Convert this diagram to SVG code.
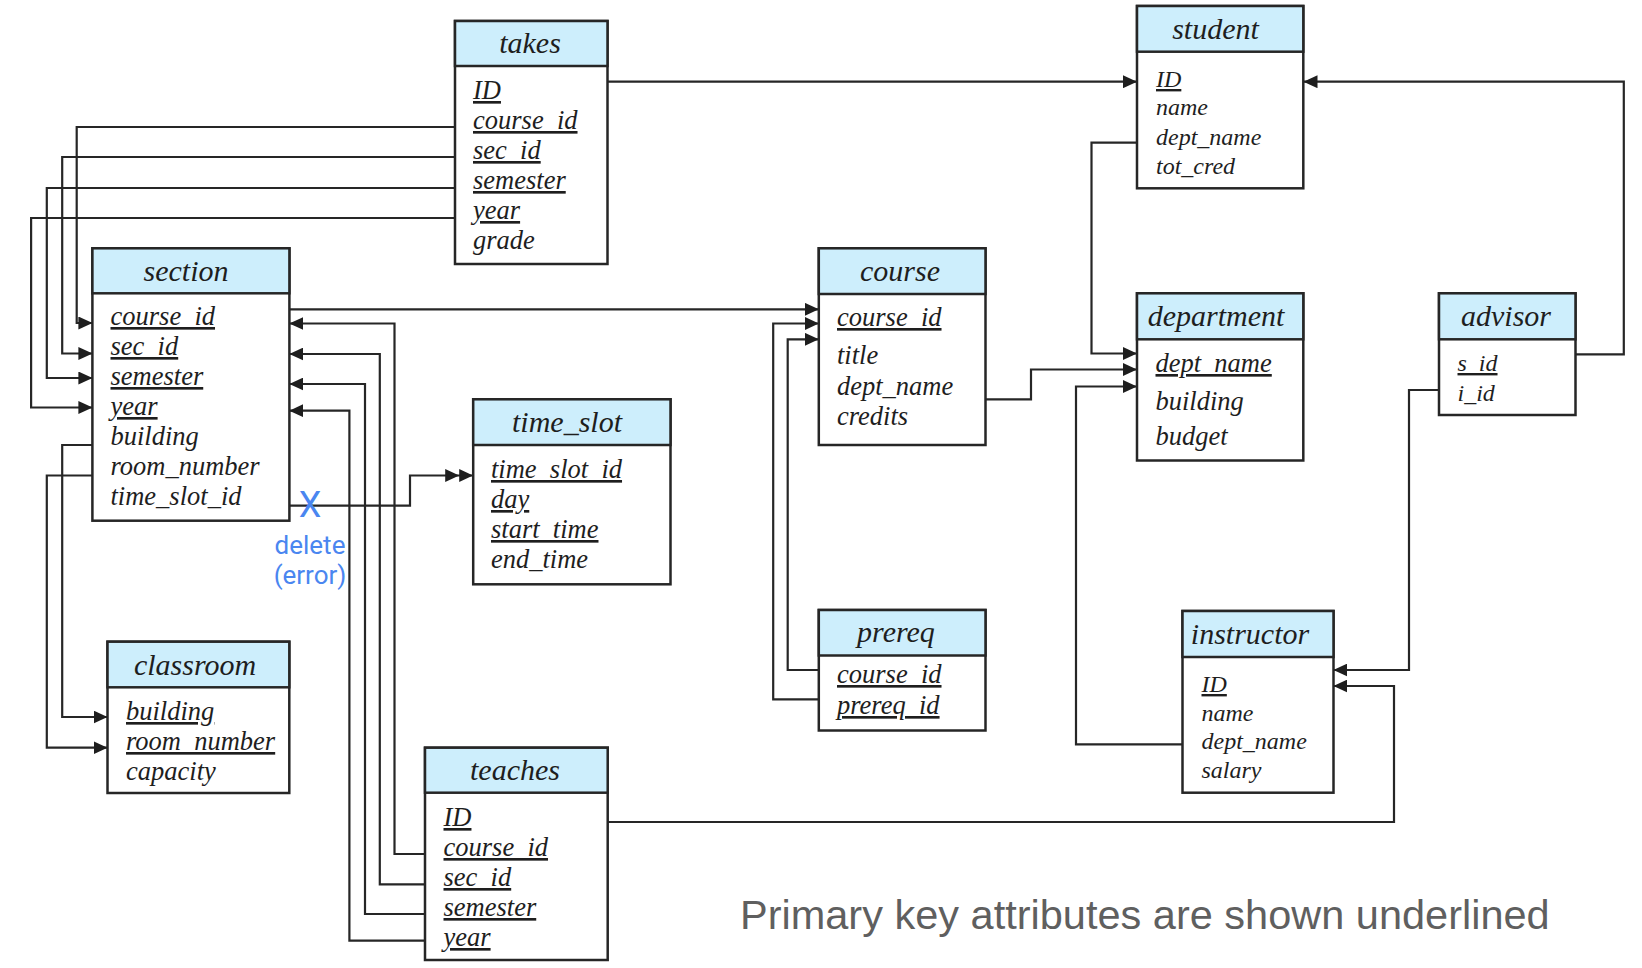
<svg xmlns="http://www.w3.org/2000/svg" width="1642" height="968" viewBox="0 0 1642 968">
<style>
.box{fill:#fff;stroke:#262626;stroke-width:2.5}
.hdr{fill:#cdeefc;stroke:#262626;stroke-width:2.5}
.title{font-family:"Liberation Serif",serif;font-style:italic;font-size:30px;fill:#1e1e1e;text-anchor:middle}
.attr{font-family:"Liberation Serif",serif;font-style:italic;font-size:26.5px;fill:#1e1e1e}
.sm{font-size:24px}
.pk{text-decoration:underline}
.conn path{fill:none;stroke:#262626;stroke-width:2.2}
.note{font-family:Roboto,"Liberation Sans",sans-serif;fill:#4a86f0;text-anchor:middle}
.foot{font-family:"Liberation Sans",Arial,sans-serif;font-size:41.5px;fill:#5f5f5f}
</style>
<defs>
<marker id="a" markerUnits="userSpaceOnUse" viewBox="0 0 14 13" markerWidth="14" markerHeight="13" refX="14" refY="6.5" orient="auto">
<path d="M0,0 L14,6.5 L0,13 z" fill="#1e1e1e"/>
</marker>
<marker id="aa" markerUnits="userSpaceOnUse" viewBox="0 0 28 13" markerWidth="28" markerHeight="13" refX="28" refY="6.5" orient="auto">
<path d="M0,0 L14,6.5 L0,13 z M14,0 L28,6.5 L14,13 z" fill="#1e1e1e"/>
</marker>
</defs>
<rect width="1642" height="968" fill="#fff"/>

<g class="conn">
<path d="M607.5,81.7 H1137" marker-end="url(#a)"/>
<path d="M455,127 H76.7 V323 H92.4" marker-end="url(#a)"/>
<path d="M455,157 H62.2 V353.5 H92.4" marker-end="url(#a)"/>
<path d="M455,188 H46.8 V378 H92.4" marker-end="url(#a)"/>
<path d="M455,218 H31.1 V407.5 H92.4" marker-end="url(#a)"/>
<path d="M289.3,309.3 H818.8" marker-end="url(#a)"/>
<path d="M92.4,445 H62.2 V717 H107.5" marker-end="url(#a)"/>
<path d="M92.4,475.5 H46.8 V747.7 H107.5" marker-end="url(#a)"/>
<path d="M289.3,505.7 H410 V475.5 H473.2" marker-end="url(#aa)"/>
<path d="M425,854 H394.5 V323.5 H289.3" marker-end="url(#a)"/>
<path d="M425,884.3 H379.8 V354 H289.3" marker-end="url(#a)"/>
<path d="M425,914 H365 V384 H289.3" marker-end="url(#a)"/>
<path d="M425,940.7 H349.4 V410.7 H289.3" marker-end="url(#a)"/>
<path d="M607.7,822 H1394 V686 H1333.4" marker-end="url(#a)"/>
<path d="M818.8,670 H787.7 V339.3 H818.8" marker-end="url(#a)"/>
<path d="M818.8,699.3 H773.2 V323.5 H818.8" marker-end="url(#a)"/>
<path d="M1137,142.7 H1091.5 V353.5 H1137" marker-end="url(#a)"/>
<path d="M985.5,399.3 H1031 V369.5 H1137" marker-end="url(#a)"/>
<path d="M1182.5,744.3 H1076 V386.5 H1137" marker-end="url(#a)"/>
<path d="M1575.5,354.3 H1623.8 V81.7 H1303.5" marker-end="url(#a)"/>
<path d="M1439,390 H1409 V670 H1333.4" marker-end="url(#a)"/>
</g>

<g id="takes">
<rect class="box" x="455" y="21" width="152.5" height="243"/>
<rect class="hdr" x="455" y="21" width="152.5" height="45"/>
<text class="title" x="530" y="53">takes</text>
<text class="attr pk" x="473" y="99">ID</text>
<text class="attr pk" x="473" y="129">course_id</text>
<text class="attr pk" x="473" y="159">sec_id</text>
<text class="attr pk" x="473" y="189">semester</text>
<text class="attr pk" x="473" y="219">year</text>
<text class="attr" x="473" y="249">grade</text>
</g>

<g id="section">
<rect class="box" x="92.4" y="248.3" width="197" height="272.4"/>
<rect class="hdr" x="92.4" y="248.3" width="197" height="45"/>
<text class="title" x="186" y="281">section</text>
<text class="attr pk" x="110.5" y="325">course_id</text>
<text class="attr pk" x="110.5" y="355">sec_id</text>
<text class="attr pk" x="110.5" y="385">semester</text>
<text class="attr pk" x="110.5" y="415">year</text>
<text class="attr" x="110.5" y="445">building</text>
<text class="attr" x="110.5" y="475">room_number</text>
<text class="attr" x="110.5" y="505">time_slot_id</text>
</g>

<g id="time_slot">
<rect class="box" x="473.2" y="399.3" width="197.3" height="185"/>
<rect class="hdr" x="473.2" y="399.3" width="197.3" height="45.7"/>
<text class="title" x="567" y="432">time_slot</text>
<text class="attr pk" x="491" y="478">time_slot_id</text>
<text class="attr pk" x="491" y="508">day</text>
<text class="attr pk" x="491" y="538">start_time</text>
<text class="attr" x="491" y="568">end_time</text>
</g>

<g id="classroom">
<rect class="box" x="107.5" y="641.7" width="181.8" height="151.3"/>
<rect class="hdr" x="107.5" y="641.7" width="181.8" height="45.6"/>
<text class="title" x="195" y="674.5">classroom</text>
<text class="attr pk" x="126" y="720">building</text>
<text class="attr pk" x="126" y="750">room_number</text>
<text class="attr" x="126" y="780">capacity</text>
</g>

<g id="teaches">
<rect class="box" x="425" y="747.7" width="182.7" height="212.3"/>
<rect class="hdr" x="425" y="747.7" width="182.7" height="45"/>
<text class="title" x="515" y="780">teaches</text>
<text class="attr pk" x="443.5" y="826">ID</text>
<text class="attr pk" x="443.5" y="856">course_id</text>
<text class="attr pk" x="443.5" y="886">sec_id</text>
<text class="attr pk" x="443.5" y="916">semester</text>
<text class="attr pk" x="443.5" y="946">year</text>
</g>

<g id="student">
<rect class="box" x="1137" y="6" width="166.3" height="182.3"/>
<rect class="hdr" x="1137" y="6" width="166.3" height="45.7"/>
<text class="title" x="1215.5" y="39">student</text>
<text class="attr sm pk" x="1156" y="87">ID</text>
<text class="attr sm" x="1156" y="115">name</text>
<text class="attr sm" x="1156" y="144.5">dept_name</text>
<text class="attr sm" x="1156" y="174">tot_cred</text>
</g>

<g id="course">
<rect class="box" x="818.8" y="248.3" width="166.7" height="196.7"/>
<rect class="hdr" x="818.8" y="248.3" width="166.7" height="45.7"/>
<text class="title" x="900" y="281">course</text>
<text class="attr pk" x="837" y="326">course_id</text>
<text class="attr" x="837" y="364">title</text>
<text class="attr" x="837" y="394.5">dept_name</text>
<text class="attr" x="837" y="424.5">credits</text>
</g>

<g id="department">
<rect class="box" x="1137" y="293.3" width="166.3" height="167.2"/>
<rect class="hdr" x="1137" y="293.3" width="166.3" height="46"/>
<text class="title" x="1216" y="326">department</text>
<text class="attr pk" x="1155.5" y="372">dept_name</text>
<text class="attr" x="1155.5" y="409.5">building</text>
<text class="attr" x="1155.5" y="444.5">budget</text>
</g>

<g id="advisor">
<rect class="box" x="1439" y="293.3" width="136.5" height="121.7"/>
<rect class="hdr" x="1439" y="293.3" width="136.5" height="46"/>
<text class="title" x="1506" y="326">advisor</text>
<text class="attr sm pk" x="1457.5" y="371">s_id</text>
<text class="attr sm" x="1457.5" y="401">i_id</text>
</g>

<g id="prereq">
<rect class="box" x="818.8" y="610" width="166.7" height="120.5"/>
<rect class="hdr" x="818.8" y="610" width="166.7" height="45.5"/>
<text class="title" x="896" y="642">prereq</text>
<text class="attr pk" x="837" y="683">course_id</text>
<text class="attr pk" x="837" y="714">prereq_id</text>
</g>

<g id="instructor">
<rect class="box" x="1182.5" y="611" width="151" height="181.7"/>
<rect class="hdr" x="1182.5" y="611" width="151" height="46"/>
<text class="title" x="1250" y="643.5">instructor</text>
<text class="attr sm pk" x="1201.5" y="692">ID</text>
<text class="attr sm" x="1201.5" y="720.5">name</text>
<text class="attr sm" x="1201.5" y="749">dept_name</text>
<text class="attr sm" x="1201.5" y="778">salary</text>
</g>

<g id="annotation">
<text class="note" x="310" y="517" font-size="36">X</text>
<text class="note" x="310" y="554" font-size="26">delete</text>
<text class="note" x="310" y="584" font-size="26">(error)</text>
</g>

<text class="foot" x="740" y="929">Primary key attributes are shown underlined</text>
</svg>
